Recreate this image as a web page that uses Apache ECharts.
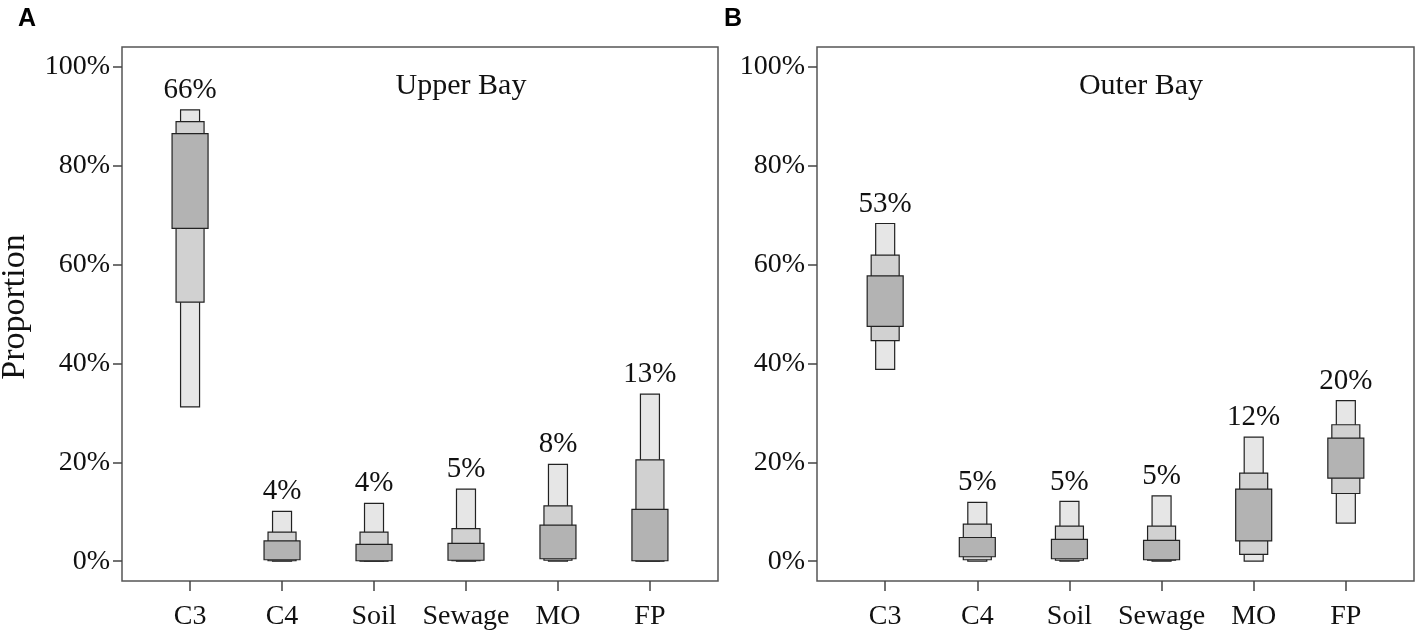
<!DOCTYPE html>
<html lang="en">

<head>
    <meta charset="UTF-8">
    <title>Source proportions</title>
    <script src="https://cdn.jsdelivr.net/npm/echarts@6.0.0/dist/echarts.min.js"></script>
    <style>
        body { margin: 0; background: #fff; }
    </style>
</head>

<body>
    <div id="main" style="width: 1417px;height:633px;"></div>

    <script>
        // sources along the x axis
        var sources = ["C3", "C4", "Soil", "Sewage", "MO", "FP"];
        var yTicks = [0, 20, 40, 60, 80, 100];

        // Upper Bay: credible intervals (percent)
        var upperLo95 = [31.2, 0, 0, 0, 0, 0];
        var upperLo75 = [52.4, 0.1, 0, 0.1, 0.2, 0];
        var upperLo50 = [67.3, 0.3, 0.1, 0.2, 0.5, 0.1];
        var upperHi50 = [86.5, 4.1, 3.4, 3.6, 7.3, 10.5];
        var upperHi75 = [88.9, 5.9, 5.9, 6.6, 11.2, 20.5];
        var upperHi95 = [91.3, 10.1, 11.7, 14.6, 19.6, 33.8];
        var upperMedian = [66, 4, 4, 5, 8, 13];

        // Outer Bay
        var outerLo95 = [38.8, 0, 0, 0, 0, 7.7];
        var outerLo75 = [44.6, 0.3, 0.2, 0.2, 1.4, 13.7];
        var outerLo50 = [47.5, 0.9, 0.5, 0.3, 4.1, 16.8];
        var outerHi50 = [57.7, 4.8, 4.4, 4.2, 14.6, 24.9];
        var outerHi75 = [61.9, 7.5, 7.1, 7.1, 17.8, 27.6];
        var outerHi95 = [68.3, 11.9, 12.1, 13.2, 25.1, 32.5];
        var outerMedian = [53, 5, 5, 5, 12, 20];

        var serif = '"Liberation Serif", "Times New Roman", serif';

        function boxData(lo, hi) {
            return lo.map(function (v, i) { return [i + 1, v, hi[i]]; });
        }

        function boxRenderer(halfW, fill) {
            return function (params, api) {
                var x = api.value(0);
                var top = api.coord([x, api.value(2)]);
                var bottom = api.coord([x, api.value(1)]);
                return {
                    type: 'rect',
                    shape: { x: top[0] - halfW, y: top[1], width: halfW * 2, height: bottom[1] - top[1] },
                    style: { fill: fill, stroke: '#222', lineWidth: 1.2 }
                };
            };
        }

        function labelRenderer(params, api) {
            var p = api.coord([api.value(0), api.value(1)]);
            return {
                type: 'text',
                x: p[0],
                y: p[1] - 5,
                style: {
                    text: api.value(2) + '%',
                    font: '29px ' + serif,
                    fill: '#111',
                    align: 'center', verticalAlign: 'bottom',
                    textAlign: 'center', textVerticalAlign: 'bottom'
                }
            };
        }

        function panelSeries(idx, lo95, lo75, lo50, hi50, hi75, hi95, median) {
            var axis = { xAxisIndex: idx, yAxisIndex: idx, type: 'custom', silent: true };
            return [
                Object.assign({ renderItem: boxRenderer(9.5, '#e6e6e6'), data: boxData(lo95, hi95) }, axis),
                Object.assign({ renderItem: boxRenderer(14, '#d1d1d1'), data: boxData(lo75, hi75) }, axis),
                Object.assign({ renderItem: boxRenderer(18, '#b3b3b3'), data: boxData(lo50, hi50) }, axis),
                Object.assign({
                    renderItem: labelRenderer,
                    data: hi95.map(function (v, i) { return [i + 1, v, median[i]]; })
                }, axis)
            ];
        }

        function xAxisFor(idx) {
            return {
                gridIndex: idx, type: 'value', min: 0.26, max: 6.74,
                axisLine: { show: false, onZero: false },
                splitLine: { show: false },
                axisTick: { customValues: [1, 2, 3, 4, 5, 6], length: 10, lineStyle: { color: '#444', width: 1.5 } },
                axisLabel: {
                    customValues: [1, 2, 3, 4, 5, 6],
                    margin: 22,
                    fontFamily: serif, fontSize: 28, color: '#111',
                    formatter: function (v) { return sources[Math.round(v) - 1]; }
                }
            };
        }

        function yAxisFor(idx) {
            return {
                gridIndex: idx, type: 'value', min: -4, max: 104,
                axisLine: { show: false, onZero: false },
                splitLine: { show: false },
                axisTick: { customValues: yTicks, length: 9, lineStyle: { color: '#444', width: 1.5 } },
                axisLabel: {
                    customValues: yTicks,
                    margin: 12,
                    fontFamily: serif, fontSize: 28, color: '#111',
                    formatter: '{value}%'
                }
            };
        }

        var chart1 = echarts.init(document.getElementById('main'));

        var option = {
            backgroundColor: '#fff',
            animation: false,
            grid: [
                { left: 122, top: 47, width: 596, height: 534, show: true, borderColor: '#555', borderWidth: 1.5 },
                { left: 817, top: 47, width: 597, height: 534, show: true, borderColor: '#555', borderWidth: 1.5 }
            ],
            xAxis: [xAxisFor(0), xAxisFor(1)],
            yAxis: [yAxisFor(0), yAxisFor(1)],
            graphic: [
                { type: 'text', x: 18, y: 7, style: { text: 'A', font: 'bold 25px "Liberation Sans", Arial, sans-serif', fill: '#000' } },
                { type: 'text', x: 724, y: 7, style: { text: 'B', font: 'bold 25px "Liberation Sans", Arial, sans-serif', fill: '#000' } },
                { type: 'text', x: 461, y: 86, style: { text: 'Upper Bay', font: '30px ' + serif, fill: '#111', align: 'center', verticalAlign: 'middle' } },
                { type: 'text', x: 1141, y: 86, style: { text: 'Outer Bay', font: '30px ' + serif, fill: '#111', align: 'center', verticalAlign: 'middle' } },
                { type: 'text', x: 15, y: 307, rotation: Math.PI / 2, style: { text: 'Proportion', font: '34px ' + serif, fill: '#111', align: 'center', verticalAlign: 'middle' } }
            ],
            series: panelSeries(0, upperLo95, upperLo75, upperLo50, upperHi50, upperHi75, upperHi95, upperMedian)
                .concat(panelSeries(1, outerLo95, outerLo75, outerLo50, outerHi50, outerHi75, outerHi95, outerMedian))
        };

        chart1.setOption(option);
    </script>
</body>

</html>
